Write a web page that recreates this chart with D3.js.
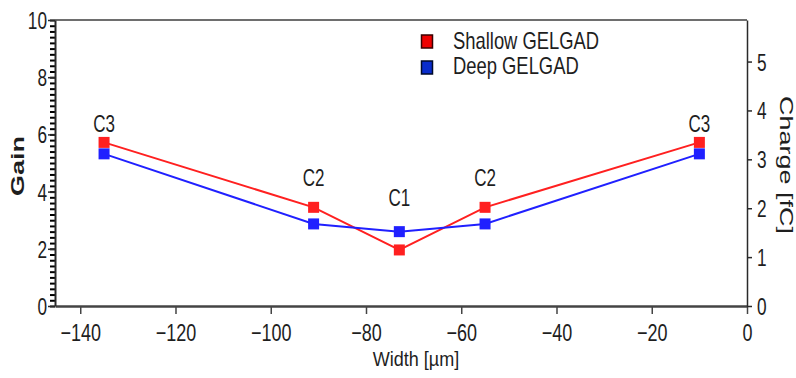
<!DOCTYPE html>
<html>
<head>
<meta charset="utf-8">
<script src="https://cdn.jsdelivr.net/npm/d3@7"></script>
<style>
  body { margin: 0; background: #fff; }
  text { font-family: "Liberation Sans", Arial, sans-serif; fill: #1e1e1e; }
</style>
</head>
<body>
<div id="chart"></div>
<script>
// values
const widths = [-135, -91, -73, -55, -10];
const shallowGain = [5.72, 3.45, 1.96, 3.45, 5.72];
const deepGain = [5.32, 2.87, 2.60, 2.87, 5.32];
const cellNames = ["C3", "C2", "C1", "C2", "C3"];
const cellLabelGain = [6.1, 4.2, 3.5, 4.2, 6.1];
const xTicks = [-140, -120, -100, -80, -60, -40, -20, 0];
const gainTicks = [0, 2, 4, 6, 8, 10];
const gainMinorTicks = d3.range(0, 10.01, 0.2);
const chargeTicks = [0, 1, 2, 3, 4, 5];
const seriesNames = ["Shallow GELGAD", "Deep GELGAD"];

const chartW = 796, chartH = 378;
const plotL = 55, plotR = 747, plotT = 20, plotB = 306;

const svg = d3.select("#chart").append("svg")
  .attr("width", chartW)
  .attr("height", chartH);

const x = d3.scaleLinear().domain([-145.3, 0]).range([plotL, plotR]);
const y = d3.scaleLinear().domain([0, 10]).range([plotB, plotT]);
const y2 = d3.scaleLinear().domain([0, 5.85]).range([plotB, plotT]);

// text in the picture is squeezed sideways
const sq = 0.75;

// top border
svg.append("line")
  .attr("x1", plotL).attr("x2", plotR)
  .attr("y1", plotT).attr("y2", plotT)
  .attr("stroke", "#6e6e6e").attr("stroke-width", 2);

// minor ticks on gain axis
const gMinor = svg.append("g")
  .attr("transform", "translate(" + plotL + ",0)")
  .call(d3.axisLeft(y).tickValues(gainMinorTicks).tickSize(5).tickFormat(""));
gMinor.select(".domain").remove();
gMinor.selectAll(".tick line").attr("stroke", "#000").attr("stroke-width", 2);

// bottom axis
const gx = svg.append("g")
  .attr("transform", "translate(0," + plotB + ")")
  .call(d3.axisBottom(x).tickValues(xTicks).tickSize(8).tickSizeOuter(0));
gx.select(".domain").attr("stroke", "#444").attr("stroke-width", 2.5);
gx.selectAll(".tick line").attr("stroke", "#444").attr("stroke-width", 1.5);
gx.selectAll(".tick text")
  .attr("x", 0).attr("y", 0).attr("dy", 0)
  .attr("transform", "translate(0,35) scale(" + sq + ",1)")
  .style("font-size", "24px")
  .attr("fill", "#1e1e1e");

// left gain axis
const gy = svg.append("g")
  .attr("transform", "translate(" + plotL + ",0)")
  .call(d3.axisLeft(y).tickValues(gainTicks).tickSize(7).tickSizeOuter(0));
gy.select(".domain").attr("stroke", "#2a2a2a").attr("stroke-width", 2);
gy.selectAll(".tick line").attr("stroke", "#2a2a2a").attr("stroke-width", 1.5);
gy.selectAll(".tick text")
  .attr("x", 0).attr("y", 0).attr("dy", 0)
  .attr("transform", "translate(-8,8.5) scale(" + sq + ",1)")
  .style("font-size", "23px")
  .attr("fill", "#1e1e1e");

// right charge axis
const gy2 = svg.append("g")
  .attr("transform", "translate(" + plotR + ",0)")
  .call(d3.axisRight(y2).tickValues(chargeTicks).tickFormat(d3.format("d")).tickSize(5).tickSizeOuter(0));
gy2.select(".domain").attr("stroke", "#2a2a2a").attr("stroke-width", 1.5);
gy2.selectAll(".tick line").attr("stroke", "#2a2a2a").attr("stroke-width", 1.5);
gy2.selectAll(".tick text")
  .attr("x", 0).attr("y", 0).attr("dy", 0)
  .attr("transform", "translate(10,8.5) scale(" + sq + ",1)")
  .style("font-size", "23px")
  .attr("fill", "#1e1e1e");

// axis titles
svg.append("text")
  .attr("transform", "translate(" + ((plotL + plotR) / 2 + 15) + ",366) scale(0.86,1)")
  .attr("text-anchor", "middle")
  .style("font-size", "21px")
  .text("Width [µm]");

svg.append("text")
  .attr("transform", "translate(24,166) scale(0.68,1) rotate(-90)")
  .attr("text-anchor", "middle")
  .style("font-size", "27px")
  .style("font-weight", "bold")
  .attr("fill", "#2a2a2a")
  .text("Gain");

svg.append("text")
  .attr("transform", "translate(780,165) scale(0.66,1) rotate(90)")
  .attr("text-anchor", "middle")
  .style("font-size", "27px")
  .text("Charge [fC]");

// series
const series = [
  { name: seriesNames[0], values: shallowGain, color: "#ff2020", legend: "#ee0000", border: "#3a0000" },
  { name: seriesNames[1], values: deepGain, color: "#2020ff", legend: "#0a2ccc", border: "#000a2a" }
];

const line = d3.line()
  .x(d => x(d[0]))
  .y(d => y(d[1]));

series.forEach(s => {
  const pts = widths.map((w, i) => [w, s.values[i]]);
  svg.append("path")
    .datum(pts)
    .attr("d", line)
    .attr("fill", "none")
    .attr("stroke", s.color)
    .attr("stroke-width", 2);
});

series.forEach(s => {
  svg.selectAll(null)
    .data(widths.map((w, i) => [w, s.values[i]]))
    .enter()
    .append("rect")
    .attr("x", d => x(d[0]) - 5.5)
    .attr("y", d => y(d[1]) - 5.5)
    .attr("width", 11)
    .attr("height", 11)
    .attr("fill", s.color);
});

// cell labels
svg.selectAll(null)
  .data(cellNames)
  .enter()
  .append("text")
  .attr("transform", (d, i) => "translate(" + x(widths[i]) + "," + y(cellLabelGain[i]) + ") scale(0.74,1)")
  .attr("text-anchor", "middle")
  .style("font-size", "23px")
  .text(d => d);

// legend
const lg = svg.append("g");
series.forEach((s, i) => {
  lg.append("rect")
    .attr("x", 421.5).attr("y", 35 + i * 26)
    .attr("width", 11).attr("height", 13)
    .attr("fill", s.legend)
    .attr("stroke", s.border)
    .attr("stroke-width", 1.5);
  lg.append("text")
    .attr("transform", "translate(453," + (49 + i * 25) + ") scale(0.8,1)")
    .style("font-size", "23px")
    .attr("fill", s.color)
    .text(s.name);
});
</script>
</body>
</html>
